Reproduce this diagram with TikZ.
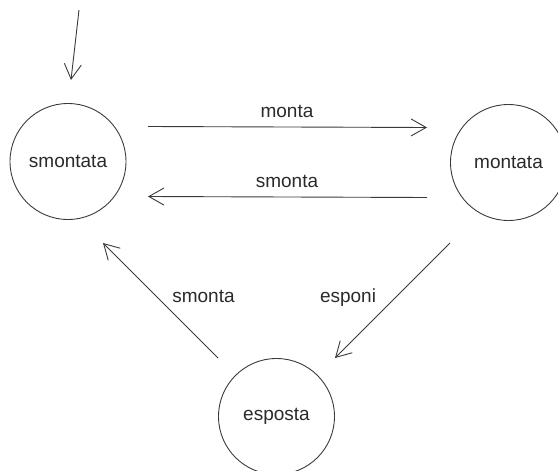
\documentclass[tikz,border=0pt]{standalone}
\usepackage{fontspec}
\setmainfont{Liberation Sans}
\usetikzlibrary{arrows.meta}
\definecolor{ln}{HTML}{3A3A3A}
\definecolor{tx}{HTML}{2A2A2A}
\tikzset{
  state/.style={circle, draw=ln, line width=0.9pt, minimum size=116pt, inner sep=0pt, text=tx, font=\fontsize{19}{22}\selectfont},
  lbl/.style={text=tx, font=\fontsize{19}{22}\selectfont, anchor=base, inner sep=0pt},
  arr/.style={draw=ln, line width=0.9pt, -{Straight Barb[length=15pt,width=17pt,line width=0.9pt]}}
}
\begin{document}
\begin{tikzpicture}[x=1pt,y=1pt]
\useasboundingbox (0,0) rectangle (558,-471);
\clip (0,0) rectangle (558,-471);
\node[state] (smontata) at (68,-161.5) {smontata};
\node[state] (montata) at (508.5,-162.5) {montata};
\node[state] (esposta) at (276.5,-416.5) {esposta};
\coordinate (init) at (79,-10);
\draw[arr] (init) -- ([shift={(3,81.5)}]smontata.center);
\draw[arr] ([shift={(80,35)}]smontata.center) -- ([shift={(-81.5,35)}]montata.center);
\draw[arr] ([shift={(-81.5,-35)}]montata.center) -- ([shift={(80,-35)}]smontata.center);
\draw[arr] ([shift={(-58.5,-80.5)}]montata.center) -- ([shift={(58.5,58.5)}]esposta.center);
\draw[arr] ([shift={(-58.5,58.5)}]esposta.center) -- ([shift={(35,-81.5)}]smontata.center);
\node[lbl] (l1) at (287,-117) {monta};
\node[lbl] (l2) at (287,-187) {smonta};
\node[lbl] (l3) at (348,-302) {esponi};
\node[lbl] (l4) at (203.5,-302) {smonta};
\end{tikzpicture}
\end{document}
